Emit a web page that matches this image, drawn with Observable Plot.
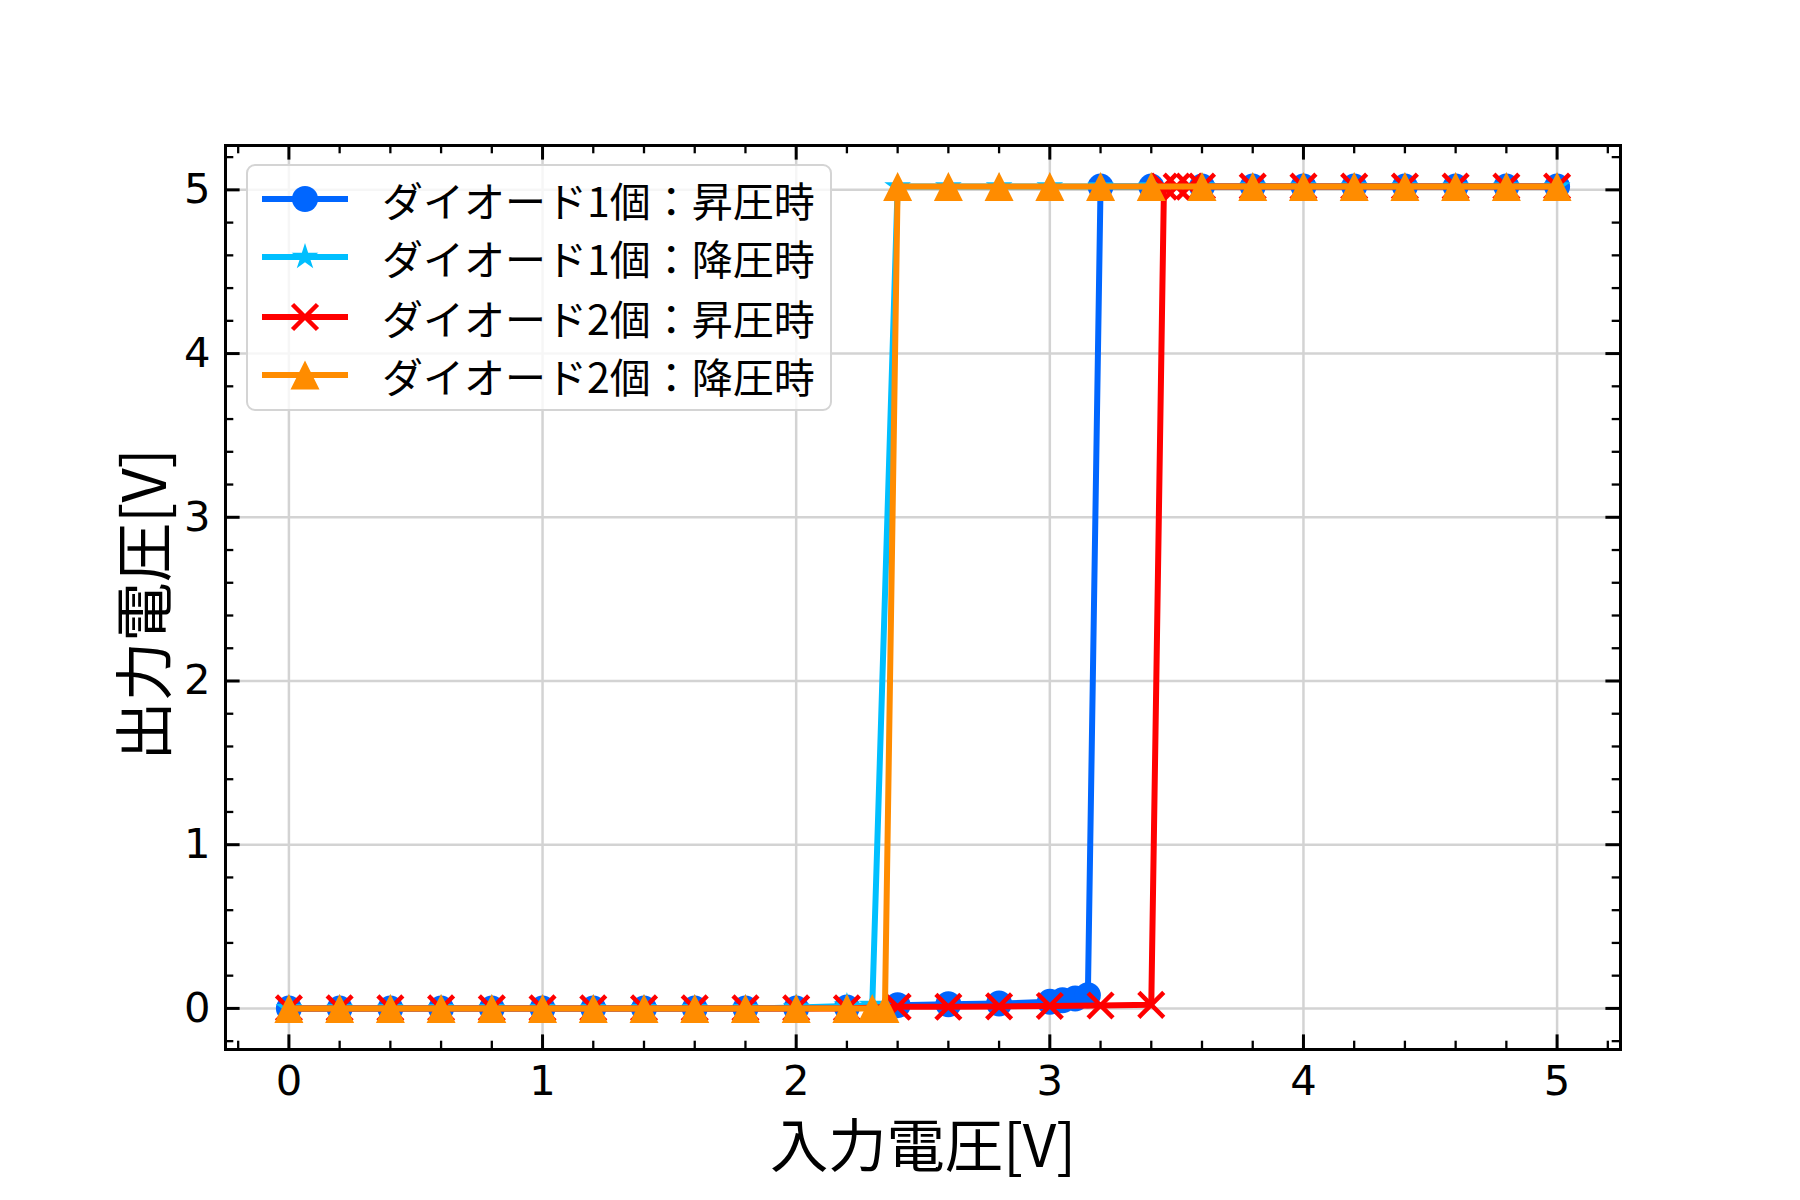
<!DOCTYPE html>
<html>
<head>
<meta charset="utf-8">
<script src="https://cdn.jsdelivr.net/npm/d3@7"></script>
<script src="https://cdn.jsdelivr.net/npm/@observablehq/plot@0.6"></script>
<style>
  body { margin: 0; background: #ffffff; }
  #wrap { position: relative; width: 1800px; height: 1200px; background: #ffffff; }
  #legend {
    position: absolute; left: 246px; top: 164px; width: 586px; height: 247px;
    box-sizing: border-box; border: 2.5px solid #d4d4d4; border-radius: 9px;
    background: rgba(255,255,255,0.8);
  }
  .lrow { position: absolute; left: 0; height: 50px; width: 580px; }
  .lrow svg { position: absolute; left: 0; top: 0; }
  .lrow span {
    position: absolute; left: 134px; top: 0; height: 50px; line-height: 50px;
    font-family: "Noto Sans CJK JP", sans-serif; font-size: 41px; color: #000; white-space: nowrap;
  }
</style>
</head>
<body>
<div id="wrap"></div>
<script>
// ---- data ----
const seriesNames = ["ダイオード1個：昇圧時", "ダイオード1個：降圧時", "ダイオード2個：昇圧時", "ダイオード2個：降圧時"];
const seriesColors = ["#0066ff", "#00bfff", "#ff0000", "#ff8c00"];

const x1 = [0,0.2,0.4,0.6,0.8,1.0,1.2,1.4,1.6,1.8,2.0,2.2,2.4,2.6,2.8,3.0,3.05,3.1,3.15,3.2,3.4,3.6,3.8,4.0,4.2,4.4,4.6,4.8,5.0];
const y1 = [0,0,0,0,0,0,0,0,0,0,0,0.005,0.02,0.025,0.03,0.04,0.05,0.06,0.08,5.02,5.02,5.02,5.02,5.02,5.02,5.02,5.02,5.02,5.02];

const x2 = [0,0.2,0.4,0.6,0.8,1.0,1.2,1.4,1.6,1.8,2.0,2.2,2.3,2.4,2.6,2.8,3.0,3.2,3.4,3.6,3.8,4.0,4.2,4.4,4.6,4.8,5.0];
const y2 = [0,0,0,0,0,0,0,0,0,0,0.005,0.015,0.02,5.02,5.02,5.02,5.02,5.02,5.02,5.02,5.02,5.02,5.02,5.02,5.02,5.02,5.02];

const x3 = [0,0.2,0.4,0.6,0.8,1.0,1.2,1.4,1.6,1.8,2.0,2.2,2.4,2.6,2.8,3.0,3.2,3.4,3.45,3.5,3.55,3.6,3.8,4.0,4.2,4.4,4.6,4.8,5.0];
const y3 = [0,0,0,0,0,0,0,0,0,0,0,0,0.01,0.01,0.012,0.015,0.018,0.022,5.02,5.02,5.02,5.02,5.02,5.02,5.02,5.02,5.02,5.02,5.02];

const x4 = [0,0.2,0.4,0.6,0.8,1.0,1.2,1.4,1.6,1.8,2.0,2.2,2.3,2.35,2.4,2.6,2.8,3.0,3.2,3.4,3.6,3.8,4.0,4.2,4.4,4.6,4.8,5.0];
const y4 = [0,0,0,0,0,0,0,0,0,0,0,0,0,0,5.02,5.02,5.02,5.02,5.02,5.02,5.02,5.02,5.02,5.02,5.02,5.02,5.02,5.02];

const xMajor = [0,1,2,3,4,5];
const yMajor = [0,1,2,3,4,5];
const xMinor = [-0.2,0.2,0.4,0.6,0.8,1.2,1.4,1.6,1.8,2.2,2.4,2.6,2.8,3.2,3.4,3.6,3.8,4.2,4.4,4.6,4.8,5.2];
const yMinor = [-0.2,0.2,0.4,0.6,0.8,1.2,1.4,1.6,1.8,2.2,2.4,2.6,2.8,3.2,3.4,3.6,3.8,4.2,4.4,4.6,4.8,5.2];

const xLabel = "入力電圧[V]";
const yLabel = "出力電圧[V]";

// ---- layout ----
const W = 1800, H = 1200, mL = 225, mR = 180, mT = 145, mB = 151;
const pw = W - mL - mR, ph = H - mT - mB;
const majLen = 14.6, minLen = 8.3;

// matplotlib-like "^" triangle (width == height)
const mplTriangle = {
  draw(ctx, size) {
    const s = Math.sqrt(size / Math.PI);
    ctx.moveTo(0, -s); ctx.lineTo(s, s); ctx.lineTo(-s, s); ctx.closePath();
  }
};

const styles = [
  {symbol: "circle", r: 13, filled: true},
  {symbol: "star", r: 8.4, filled: true},
  {symbol: "times", r: 11.4, filled: false},
  {symbol: mplTriangle, r: 14.5, filled: true}
];
const xsAll = [x1, x2, x3, x4];
const ysAll = [y1, y2, y3, y4];

const marks = [
  Plot.gridX(xMajor, {stroke: "#d3d3d3", strokeOpacity: 1, strokeWidth: 2.5}),
  Plot.gridY(yMajor, {stroke: "#d3d3d3", strokeOpacity: 1, strokeWidth: 2.5})
];

xsAll.forEach((xs, k) => {
  const data = xs.map((x, i) => ({x, y: ysAll[k][i]}));
  const c = seriesColors[k], st = styles[k];
  marks.push(Plot.line(data, {x: "x", y: "y", stroke: c, strokeWidth: 6, strokeLinejoin: "round"}));
  marks.push(Plot.dot(data, st.filled
    ? {x: "x", y: "y", symbol: st.symbol, r: st.r, fill: c, stroke: "none"}
    : {x: "x", y: "y", symbol: st.symbol, r: st.r, fill: "none", stroke: c, strokeWidth: 4.5}));
});

marks.push(
  Plot.frame({stroke: "black", strokeWidth: 3}),
  // inward ticks on all four sides
  Plot.tickX(xMajor, {x: d => d, stroke: "black", strokeWidth: 3, insetTop: ph - majLen}),
  Plot.tickX(xMajor, {x: d => d, stroke: "black", strokeWidth: 3, insetBottom: ph - majLen}),
  Plot.tickX(xMinor, {x: d => d, stroke: "black", strokeWidth: 2.3, insetTop: ph - minLen}),
  Plot.tickX(xMinor, {x: d => d, stroke: "black", strokeWidth: 2.3, insetBottom: ph - minLen}),
  Plot.tickY(yMajor, {y: d => d, stroke: "black", strokeWidth: 3, insetRight: pw - majLen}),
  Plot.tickY(yMajor, {y: d => d, stroke: "black", strokeWidth: 3, insetLeft: pw - majLen}),
  Plot.tickY(yMinor, {y: d => d, stroke: "black", strokeWidth: 2.3, insetRight: pw - minLen}),
  Plot.tickY(yMinor, {y: d => d, stroke: "black", strokeWidth: 2.3, insetLeft: pw - minLen}),
  Plot.axisX(xMajor, {anchor: "bottom", tickSize: 0, tickPadding: 16, label: null, tickFormat: d => String(d),
    fontSize: 41.7, fontFamily: "DejaVu Sans", fill: "black"}),
  Plot.axisY(yMajor, {anchor: "left", tickSize: 0, tickPadding: 15, label: null, tickFormat: d => String(d),
    fontSize: 41.7, fontFamily: "DejaVu Sans", fill: "black"}),
  Plot.text([xLabel], {frameAnchor: "bottom", dy: 99, textAnchor: "middle", lineAnchor: "middle", fontSize: 58.3,
    fontFamily: "Noto Sans CJK JP", fill: "black"}),
  Plot.text([yLabel], {frameAnchor: "left", dx: -79, dy: 7, rotate: -90, textAnchor: "middle", lineAnchor: "middle", fontSize: 59.5,
    fontFamily: "Noto Sans CJK JP", fill: "black"})
);

const chart = Plot.plot({
  width: W, height: H,
  marginLeft: mL, marginRight: mR, marginTop: mT, marginBottom: mB,
  x: {domain: [-0.25, 5.25]},
  y: {domain: [-0.251, 5.271]},
  style: {background: "white", color: "black", fontFamily: "DejaVu Sans", fontSize: "41.7px"},
  marks
});
const wrap = document.getElementById("wrap");
wrap.appendChild(chart);

// ---- legend (inside the axes, upper left) ----
const legend = document.createElement("div");
legend.id = "legend";
wrap.appendChild(legend);
const rowCenters = [33, 91, 151, 209];
seriesNames.forEach((name, k) => {
  const row = document.createElement("div");
  row.className = "lrow";
  row.style.top = (rowCenters[k] - 25) + "px";
  const svg = d3.create("svg").attr("width", 120).attr("height", 50);
  svg.append("line").attr("x1", 14).attr("x2", 100).attr("y1", 25).attr("y2", 25)
    .attr("stroke", seriesColors[k]).attr("stroke-width", 6);
  const st = styles[k];
  const sym = typeof st.symbol === "string"
    ? {circle: d3.symbolCircle, star: d3.symbolStar, times: d3.symbolTimes}[st.symbol]
    : st.symbol;
  const path = svg.append("path")
    .attr("transform", "translate(57,25)")
    .attr("d", d3.symbol(sym, Math.PI * st.r * st.r)());
  if (st.filled) path.attr("fill", seriesColors[k]);
  else path.attr("fill", "none").attr("stroke", seriesColors[k]).attr("stroke-width", 4.5);
  row.appendChild(svg.node());
  const span = document.createElement("span");
  span.textContent = name;
  row.appendChild(span);
  legend.appendChild(row);
});
</script>
</body>
</html>
